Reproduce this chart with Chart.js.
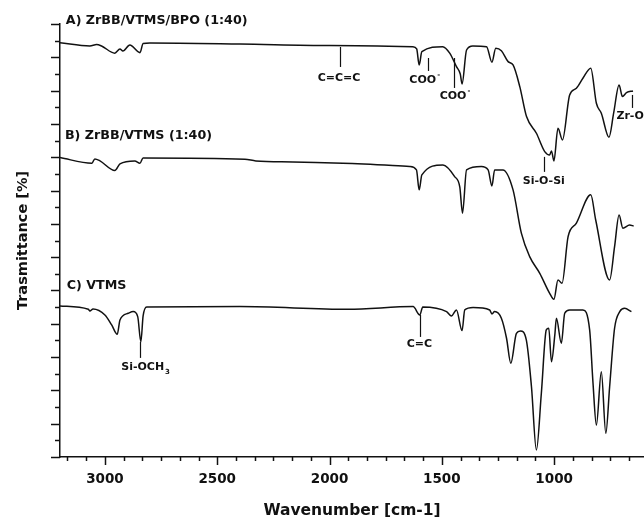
<!DOCTYPE html>
<html>
<head>
<meta charset="utf-8">
<script src="https://cdn.jsdelivr.net/npm/chart.js@4.4.0/dist/chart.umd.min.js"></script>
<style>
    html, body { margin: 0; padding: 0; background: #fff; }
</style>
</head>
<body>
<canvas id="chart" width="644" height="520"></canvas>
<script>
// Spectrum A) ZrBB/VTMS/BPO (1:40) - wavenumber [cm-1] / offset transmittance
const wnA = [3200, 3067, 3037, 3015, 2956, 2933, 2920, 2889, 2844, 2830, 2800, 2399, 2000, 1629, 1612, 1601, 1589, 1496, 1465, 1435, 1418, 1410, 1390, 1362, 1301, 1277, 1260, 1235, 1205, 1183, 1153, 1123, 1079, 1042, 1020, 1012, 1001, 983, 963, 931, 901, 872, 837, 812, 790, 756, 735, 711, 696, 678, 649];
const trA = [24.88, 24.68, 24.77, 24.68, 24.25, 24.50, 24.38, 24.74, 24.28, 24.83, 24.86, 24.80, 24.71, 24.64, 24.50, 23.54, 24.34, 24.64, 24.25, 23.44, 23.00, 22.40, 24.44, 24.68, 24.64, 23.71, 24.55, 24.40, 23.74, 23.54, 22.24, 20.44, 19.44, 18.34, 18.14, 18.38, 17.78, 19.74, 19.04, 21.74, 22.14, 22.74, 23.35, 21.24, 20.64, 19.20, 20.66, 22.34, 21.64, 21.88, 21.98];

// Spectrum B) ZrBB/VTMS (1:40)
const wnB = [3200, 3058, 3045, 3022, 2956, 2933, 2867, 2844, 2830, 2377, 2328, 2163, 1941, 1643, 1613, 1601, 1589, 1495, 1443, 1420, 1408, 1390, 1324, 1294, 1277, 1265, 1228, 1183, 1146, 1109, 1064, 1020, 1001, 983, 965, 938, 901, 837, 815, 753, 731, 711, 694, 664, 646];
const trB = [17.98, 17.64, 17.90, 17.78, 17.20, 17.60, 17.78, 17.64, 17.96, 17.88, 17.78, 17.72, 17.64, 17.44, 17.24, 16.04, 16.94, 17.54, 16.84, 16.20, 14.64, 17.24, 17.44, 17.24, 16.28, 17.24, 17.24, 16.04, 13.44, 12.03, 11.03, 9.83, 9.47, 10.63, 10.43, 13.23, 14.04, 15.74, 14.23, 10.63, 12.63, 14.53, 13.74, 13.93, 13.87];

// Spectrum C) VTMS
const wnC = [3200, 3074, 3067, 3053, 3000, 2970, 2945, 2933, 2896, 2874, 2854, 2840, 2830, 2814, 2399, 1917, 1628, 1598, 1585, 1479, 1457, 1435, 1410, 1398, 1361, 1287, 1277, 1265, 1235, 1212, 1193, 1168, 1150, 1124, 1101, 1079, 1057, 1035, 1024, 1012, 997, 990, 968, 953, 931, 872, 842, 827, 812, 790, 770, 753, 731, 708, 686, 656];
const trC = [9.07, 8.87, 8.77, 8.89, 8.53, 7.93, 7.37, 8.23, 8.63, 8.73, 8.43, 6.92, 8.47, 9.01, 9.03, 8.87, 9.03, 8.53, 9.01, 8.73, 8.47, 8.83, 7.59, 8.83, 8.97, 8.83, 8.59, 8.73, 8.33, 7.13, 5.63, 7.43, 7.57, 7.03, 4.22, 0.42, 3.83, 7.63, 7.73, 5.72, 7.33, 8.33, 6.83, 8.63, 8.83, 8.83, 7.63, 4.43, 1.92, 5.12, 1.42, 4.22, 7.73, 8.73, 8.93, 8.73];

// Axis ticks
const xTickLabels = [3000, 2500, 2000, 1500, 1000];
const xMinorPerMajor = 6;
const yTickCount = 26;

// Series captions and peak assignments (wavenumber, value)
const seriesLabels = [
    { text: 'A) ZrBB/VTMS/BPO (1:40)', wn: 3174, y: 26.2 },
    { text: 'B) ZrBB/VTMS (1:40)', wn: 3178, y: 19.28 },
    { text: 'C) VTMS', wn: 3170, y: 10.27 }
];
const peakLabels = [
    { text: 'C=C=C', wn: 1954, top: 24.62, bottom: 23.42, labelWn: 1958, labelY: 22.76 },
    { text: 'COO', sup: '-', wn: 1563, top: 23.96, bottom: 23.18, labelWn: 1585, labelY: 22.64 },
    { text: 'COO', sup: '-', wn: 1447, top: 23.96, bottom: 22.16, labelWn: 1450, labelY: 21.68 },
    { text: 'Si-O-Si', wn: 1046, top: 18.02, bottom: 17.12, labelWn: 1046, labelY: 16.58 },
    { text: 'Zr-O', wn: 655, top: 21.74, bottom: 20.96, labelWn: 662, labelY: 20.48 },
    { text: 'Si-OCH', sub: '3', wn: 2844, top: 6.91, bottom: 5.95, labelWn: 2832, labelY: 5.41 },
    { text: 'C=C', wn: 1598, top: 8.53, bottom: 7.21, labelWn: 1600, labelY: 6.79 }
];

const FONT = "'DejaVu Sans', sans-serif";
const INK = '#111';

function toPoints(xs, ys) {
    return xs.map((x, i) => ({ x: x, y: ys[i] }));
}

// Ticks, captions and peak markers
const decorations = {
    id: 'decorations',
    afterDraw(chart) {
        const { ctx, scales: { x, y } } = chart;
        ctx.save();
        ctx.strokeStyle = INK;
        ctx.fillStyle = INK;
        ctx.lineWidth = 1.5;

        // x ticks, pointing down
        const step = (xTickLabels[0] - xTickLabels[1]) / xMinorPerMajor;
        for (let k = -3; k <= 40; k++) {
            const wn = xTickLabels[0] - k * step;
            if (wn < x.min || wn > x.max) continue;
            const px = Math.round(x.getPixelForValue(wn)) + 0.5;
            const len = k % xMinorPerMajor === 0 ? 8 : 4;
            ctx.beginPath();
            ctx.moveTo(px, y.bottom);
            ctx.lineTo(px, y.bottom + len);
            ctx.stroke();
        }

        // y ticks, pointing left
        for (let v = 0; v <= yTickCount; v++) {
            const py = Math.round(y.getPixelForValue(v)) + 0.5;
            const len = v % 2 === 0 ? 9 : 5;
            ctx.beginPath();
            ctx.moveTo(x.left, py);
            ctx.lineTo(x.left - len, py);
            ctx.stroke();
        }

        // series captions
        ctx.font = 'bold 12.7px ' + FONT;
        ctx.textAlign = 'left';
        ctx.textBaseline = 'middle';
        seriesLabels.forEach(s => {
            ctx.fillText(s.text, x.getPixelForValue(s.wn), y.getPixelForValue(s.y));
        });

        // peak assignments
        ctx.lineWidth = 1.2;
        peakLabels.forEach(p => {
            const px = Math.round(x.getPixelForValue(p.wn)) + 0.5;
            ctx.beginPath();
            ctx.moveTo(px, y.getPixelForValue(p.top));
            ctx.lineTo(px, y.getPixelForValue(p.bottom));
            ctx.stroke();

            const lx = x.getPixelForValue(p.labelWn);
            const ly = y.getPixelForValue(p.labelY);
            ctx.font = 'bold 11px ' + FONT;
            ctx.textAlign = 'center';
            ctx.fillText(p.text, lx, ly);
            const w = ctx.measureText(p.text).width;
            if (p.sup || p.sub) {
                ctx.font = 'bold 7px ' + FONT;
                ctx.textAlign = 'left';
                ctx.fillText(p.sup || p.sub, lx + w / 2 + 1, ly + (p.sup ? -5 : 5));
            }
        });
        ctx.restore();
    }
};

const axisFont = { family: FONT, weight: 'bold', size: 13.5 };

new Chart(document.getElementById('chart'), {
    type: 'line',
    data: {
        datasets: [
            { label: 'A', data: toPoints(wnA, trA) },
            { label: 'B', data: toPoints(wnB, trB) },
            { label: 'C', data: toPoints(wnC, trC) }
        ]
    },
    options: {
        responsive: false,
        animation: false,
        devicePixelRatio: 1,
        layout: { padding: { top: 24, right: 0, bottom: 0, left: 0 } },
        elements: {
            point: { radius: 0 },
            line: { borderColor: INK, borderWidth: 1.5, cubicInterpolationMode: 'monotone', fill: false }
        },
        plugins: {
            legend: { display: false },
            tooltip: { enabled: false }
        },
        scales: {
            x: {
                type: 'linear',
                reverse: true,
                min: 600,
                max: 3200,
                afterBuildTicks: scale => {
                    scale.ticks = xTickLabels.map(v => ({ value: v }));
                },
                afterFit: scale => { scale.height = 63; },
                grid: { drawOnChartArea: false, drawTicks: false },
                border: { color: INK, width: 1.5 },
                ticks: { color: INK, font: axisFont, padding: 14, maxRotation: 0, autoSkip: false, callback: v => String(v) },
                title: { display: true, text: 'Wavenumber [cm-1]', color: INK, font: { family: FONT, weight: 'bold', size: 15.5, lineHeight: 1 }, padding: { top: 0, bottom: 1 } }
            },
            y: {
                min: 0,
                max: yTickCount,
                afterFit: scale => { scale.width = 60; },
                grid: { drawOnChartArea: false, drawTicks: false },
                border: { color: INK, width: 1.5 },
                ticks: { display: false },
                title: { display: true, text: 'Trasmittance [%]', color: INK, font: { family: FONT, weight: 'bold', size: 14.5, lineHeight: 1 }, padding: { top: 16, bottom: 0 } }
            }
        }
    },
    plugins: [decorations]
});
</script>
</body>
</html>
